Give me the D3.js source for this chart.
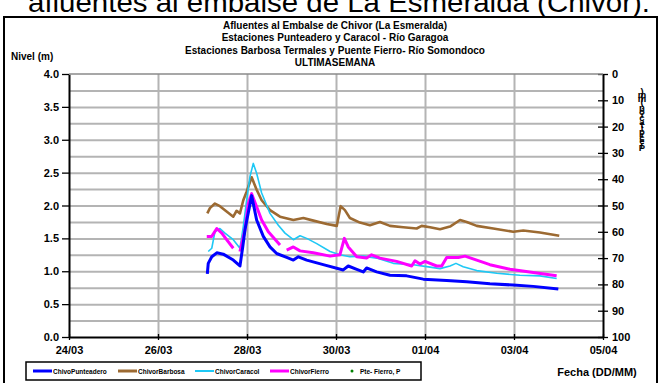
<!DOCTYPE html>
<html><head><meta charset="utf-8">
<script src="https://cdn.jsdelivr.net/npm/d3@7"></script>
<style>
body{margin:0;background:#fff;}
svg{display:block;font-family:"Liberation Sans",Arial,sans-serif;}
.grid line{stroke:#b4b4b4;stroke-width:2px;}
.grid .domain{display:none;}
.grid text{display:none;}
</style></head>
<body><svg id="c" width="663" height="383"></svg>
<script>
// ---- data ----
const startDate = "2011-03-24T00:00";
const xTickLabels = ["24/03","26/03","28/03","30/03","01/04","03/04","05/04"];
const yTicks = [0,0.5,1,1.5,2,2.5,3,3.5,4];
const yGrid = [0.25,0.5,0.75,1,1.25,1.5,1.75,2,2.25,2.5,2.75,3,3.25,3.5,3.75];
const y2Ticks = [0,10,20,30,40,50,60,70,80,90,100];
const seriesNames = ["ChivoPunteadero","ChivorBarbosa","ChivorCaracol","ChivorFierro","Pte- Fierro, P"];

// hours since 24/03 00:00
const puntHours = [74.6,75.1,77.0,79.7,83.2,88.6,92.2,93.7,94.9,98.5,101.2,104.8,108.4,112.0,117.4,121.0,123.7,128.2,137.1,147.9,150.6,155.2,158.7,160.5,165.9,173.1,182.1,191.1,203.7,214.5,227.0,239.6,250.4,263.9];
const puntValues = [0.96,1.12,1.22,1.28,1.26,1.17,1.08,1.37,1.63,2.15,1.78,1.53,1.37,1.27,1.21,1.17,1.22,1.17,1.10,1.02,1.08,1.03,0.99,1.05,0.99,0.94,0.93,0.88,0.86,0.84,0.81,0.79,0.77,0.73];

const barbHours = [74.6,76.0,78.7,81.4,85.0,88.6,90.4,92.2,94.0,95.8,98.5,101.2,103.9,108.4,113.8,121.0,126.4,131.8,139.0,144.4,146.5,148.8,151.5,156.9,162.3,167.7,173.1,180.3,187.5,190.2,194.7,200.1,205.5,210.9,214.5,219.9,228.8,239.6,245.0,254.0,264.4];
const barbValues = [1.88,1.96,2.03,1.99,1.91,1.83,1.92,1.88,2.08,2.21,2.43,2.24,2.08,1.93,1.83,1.78,1.81,1.77,1.72,1.69,1.99,1.93,1.81,1.74,1.70,1.75,1.69,1.67,1.65,1.69,1.67,1.64,1.68,1.78,1.75,1.69,1.65,1.60,1.62,1.59,1.54];

const caraHours = [75.1,77.0,78.7,81.4,84.1,88.6,92.2,94.0,95.8,97.6,99.4,101.2,103.9,108.4,112.9,116.5,121.0,124.6,128.2,133.6,140.8,146.1,151.5,158.7,165.9,174.9,185.7,192.9,200.1,205.5,208.7,212.6,219.9,230.7,243.2,254.0,263.0];
const caraValues = [1.30,1.35,1.60,1.65,1.58,1.48,1.35,1.68,2.08,2.44,2.64,2.49,2.19,1.88,1.70,1.58,1.48,1.54,1.50,1.42,1.30,1.25,1.22,1.23,1.20,1.12,1.10,1.07,1.04,1.08,1.12,1.07,1.01,0.97,0.94,0.93,0.89];

const fierHours = [74.3,77.0,79.7,82.4,85.0,88.6,90.4,92.2,94.9,96.7,98.5,101.2,103.9,107.5,113.8,115.6,117.4,121.0,124.6,131.8,140.8,146.1,148.5,150.6,155.2,160.5,163.2,167.7,176.7,184.8,186.6,189.3,192.0,198.3,201.0,203.7,210.0,213.6,219.9,227.0,237.8,250.4,263.0];
const fierValues = [1.53,1.53,1.65,1.58,1.48,1.35,null,1.30,1.63,2.03,2.18,1.98,1.78,1.60,1.40,null,1.32,1.37,1.31,1.28,1.23,1.25,1.50,1.37,1.22,1.20,1.25,1.20,1.15,1.08,1.16,1.11,1.15,1.08,1.08,1.21,1.21,1.23,1.17,1.10,1.03,0.98,0.93];

const precipHours = [];
const precipValues = [];

// ---- drawing ----
const svg = d3.select("#c");
const t0 = new Date(startDate);
const toDate = h => new Date(t0.getTime() + h*3600000);

const L = 69, R = 603, T = 74, B = 337;
const x = d3.scaleTime().domain([t0, d3.timeDay.offset(t0, 12)]).range([L, R]);
const y = d3.scaleLinear().domain([0, 4]).range([B, T]);
const y2 = d3.scaleLinear().domain([0, 100]).range([T, B]);

// header (clipped)
svg.append("text").attr("x", 28).attr("y", 12).attr("font-size", 27)
  .attr("textLength", 622).attr("lengthAdjust", "spacingAndGlyphs")
  .text("afluentes al embalse de La Esmeralda (Chivor).");

svg.append("rect").attr("x", 4).attr("y", 17).attr("width", 653).attr("height", 380)
  .attr("fill", "#fff").attr("stroke", "#000").attr("stroke-width", 2);

// titles
const titles = ["Afluentes al Embalse de Chivor (La Esmeralda)",
  "Estaciones Punteadero y Caracol - Río Garagoa",
  "Estaciones Barbosa Termales y Puente Fierro- Río Somondoco",
  "ULTIMASEMANA"];
titles.forEach((t, i) => svg.append("text").attr("x", 335).attr("y", 29 + i*12.3)
  .attr("text-anchor", "middle").attr("font-size", 10).attr("font-weight", "bold").text(t));

svg.append("text").attr("x", 11).attr("y", 60).attr("font-size", 10).attr("font-weight", "bold").text("Nivel (m)");

// gridlines via axes
const xTickDates = xTickLabels.map((_, i) => d3.timeDay.offset(t0, i*2));
svg.append("g").attr("class", "grid").attr("transform", `translate(${L},0)`)
  .call(d3.axisLeft(y).tickValues(yGrid).tickSize(-(R - L)).tickFormat(""));
svg.append("g").attr("class", "grid").attr("transform", `translate(0,${B})`)
  .call(d3.axisBottom(x).tickValues(xTickDates.slice(1, -1)).tickSize(-(B - T)).tickFormat(""));

// lines
const mk = (hours, vals) => hours.map((h, i) => ({t: toDate(h), v: vals[i]}));
const line = d3.line().defined(d => d.v != null).x(d => x(d.t)).y(d => y(d.v));
const series = [
  {data: mk(barbHours, barbValues), color: "#9c6a32", w: 2.6},
  {data: mk(caraHours, caraValues), color: "#1ec8f5", w: 1.6},
  {data: mk(fierHours, fierValues), color: "#ff00ff", w: 3},
  {data: mk(puntHours, puntValues), color: "#0000ff", w: 3}
];
series.forEach(s => svg.append("path").attr("d", line(s.data)).attr("fill", "none")
  .attr("stroke", s.color).attr("stroke-width", s.w).attr("stroke-linejoin", "round"));
svg.append("g").selectAll("circle").data(mk(precipHours, precipValues)).join("circle")
  .attr("cx", d => x(d.t)).attr("cy", d => y2(d.v)).attr("r", 1.5).attr("fill", "#008000");

// axes
const fmtX = (d, i) => xTickLabels[i];
const ax = svg.append("g").attr("transform", `translate(0,${B})`)
  .call(d3.axisBottom(x).tickValues(xTickDates).tickFormat(fmtX).tickSizeInner(4).tickSizeOuter(0).tickPadding(4));
ax.selectAll(".tick line").attr("y1", -3).attr("y2", 3);
const ay = svg.append("g").attr("transform", `translate(${L},0)`)
  .call(d3.axisLeft(y).tickValues(yTicks).tickFormat(d3.format(".1f")).tickSizeInner(7).tickSizeOuter(0).tickPadding(3));
const ay2 = svg.append("g").attr("transform", `translate(${R},0)`)
  .call(d3.axisRight(y2).tickValues(y2Ticks).tickSizeInner(5).tickSizeOuter(0).tickPadding(4));
ay2.selectAll(".tick line").attr("x1", -5).attr("x2", 5);
[ax, ay, ay2].forEach(g => {
  g.select(".domain").attr("stroke", "#000").attr("stroke-width", 2);
  g.selectAll(".tick line").attr("stroke", "#000").attr("stroke-width", 1.3);
  g.selectAll("text").attr("font-size", 11).attr("font-weight", "bold")
    .attr("font-family", "Liberation Sans, Arial, sans-serif").attr("fill", "#000");
});
ax.selectAll(".tick text").attr("dy", "0.85em");
// gray top border of plot area
svg.append("line").attr("x1", L).attr("x2", R).attr("y1", T).attr("y2", T)
  .attr("stroke", "#8a8a8a").attr("stroke-width", 1.5);

// right axis title (stacked upright chars, reading bottom to top)
const y2Title = "Precipitación (mm)";
const chars = Array.from(y2Title);
svg.append("g").selectAll("text").data(chars).join("text")
  .attr("x", 642).attr("y", (d, i) => 151 - i*3.3)
  .attr("text-anchor", "middle").attr("font-size", 9.5).attr("font-weight", "bold").text(d => d);

svg.append("text").attr("x", 597).attr("y", 376).attr("text-anchor", "middle")
  .attr("font-size", 11).attr("font-weight", "bold").text("Fecha (DD/MM)");

// legend
const lg = svg.append("g");
lg.append("rect").attr("x", 26).attr("y", 362).attr("width", 395).attr("height", 18)
  .attr("fill", "#fff").attr("stroke", "#000").attr("stroke-width", 1.5);
const legItems = [
  {x: 33, color: "#0000ff", w: 3, name: seriesNames[0]},
  {x: 118, color: "#9c6a32", w: 3, name: seriesNames[1]},
  {x: 195, color: "#1ec8f5", w: 2, name: seriesNames[2]},
  {x: 270, color: "#ff00ff", w: 3, name: seriesNames[3]}
];
legItems.forEach(it => {
  lg.append("line").attr("x1", it.x).attr("x2", it.x + 19).attr("y1", 371).attr("y2", 371)
    .attr("stroke", it.color).attr("stroke-width", it.w);
  lg.append("text").attr("x", it.x + 20).attr("y", 373.5).attr("font-size", 6.5)
    .attr("font-weight", "bold").text(it.name);
});
lg.append("circle").attr("cx", 352).attr("cy", 371).attr("r", 1.5).attr("fill", "#008000");
lg.append("text").attr("x", 360).attr("y", 373.5).attr("font-size", 6.5)
  .attr("font-weight", "bold").text(seriesNames[4]);
</script></body></html>
